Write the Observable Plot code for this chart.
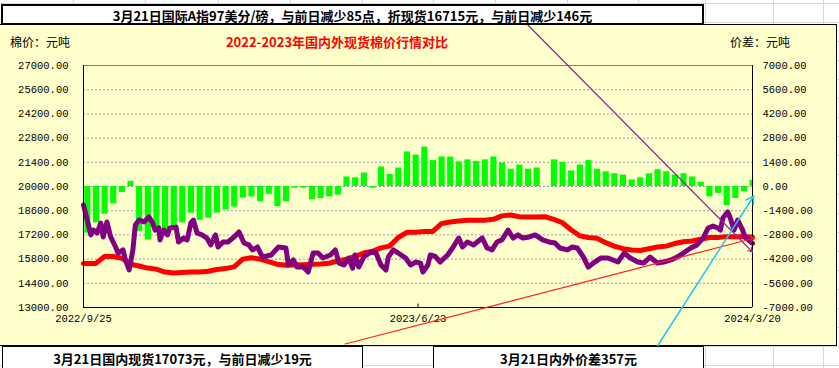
<!DOCTYPE html>
<html><head><meta charset="utf-8">
<script src="https://cdn.jsdelivr.net/npm/d3@7"></script>
<script src="https://cdn.jsdelivr.net/npm/@observablehq/plot@0.6"></script>
<style>
body{margin:0;background:#fff}
#wrap{position:relative;width:839px;height:368px;overflow:hidden;background:#fff;font-family:"Noto Sans CJK SC",sans-serif}
.gv{position:absolute;top:0;width:1px;height:368px;background:#d8d8d8}
.gh{position:absolute;left:0;height:1px;width:839px;background:#d8d8d8}
#area{position:absolute;left:-1px;top:24px;width:838px;height:322px;background:#ffffcc;border:1px solid #000;box-sizing:border-box}
#chart{position:absolute;left:0;top:0}
.lbl{position:absolute;top:34px;line-height:16px;font-size:12px;color:#000;white-space:nowrap}
#title{position:absolute;top:34px;left:337px;transform:translateX(-50%);line-height:16px;font-size:13px;font-weight:700;color:#ff0000;white-space:nowrap}
.box{position:absolute;background:#fff;border:1px solid #000;box-sizing:border-box;text-align:center;font-weight:700;font-size:13px;line-height:14px;color:#000;white-space:nowrap}
</style></head>
<body>
<div id="wrap">
  <div id="grid"></div>
  <div id="area"></div>
  <div id="chart"></div>
  <div class="lbl" style="left:10px">棉价：元吨</div>
  <div id="title">2022-2023年国内外现货棉价行情对比</div>
  <div class="lbl" style="left:730px">价差：元吨</div>
  <div class="box" style="left:1px;top:4px;width:703px;height:21px;border-width:2px;padding-top:3px">3月21日国际A指97美分/磅，与前日减少85点，折现货16715元，与前日减少146元</div>
  <div class="box" style="left:2px;top:346px;width:361px;height:30px;padding-top:5px">3月21日国内现货17073元，与前日减少19元</div>
  <div class="box" style="left:433px;top:346px;width:271px;height:30px;padding-top:5px">3月21日内外价差357元</div>
</div>
<script>
// ---- data ----
// Y tick labels (left: price, right: spread)
const priceTicks = [13000,14400,15800,17200,18600,20000,21400,22800,24200,25600,27000];
const spreadTicks = [-7000,-5600,-4200,-2800,-1400,0,1400,2800,4200,5600,7000];
const spreadZero = 20000; // price level where the spread axis reads 0
// X tick labels
const xTickDates = ["2022-09-25","2023-06-23","2024-03-20"];
const xTickLabels = ["2022/9/25","2023/6/23","2024/3/20"];

// Domestic spot price, one value per week (weeks start 2022-09-26)
const domesticPrice = [15550,15550,15950,15950,15850,15500,15400,15280,15220,15050,
15000,15020,15050,15060,15100,15200,15250,15350,15800,15880,
15800,15650,15500,15450,15460,15480,15500,15520,15560,15700,
15800,15950,16150,16250,16450,16550,17050,17350,17350,17400,
17400,17850,17950,18000,18050,18050,18050,18100,18300,18350,
18250,18230,18230,18250,18100,17900,17500,17150,17050,17000,
16750,16550,16400,16330,16300,16400,16500,16550,16700,16800,
16850,16950,17050,17050,17100,17100,17100,17073];

// Domestic minus international spread, one value per week (null = holiday week)
const weeklySpread = [-2700,-2100,-1600,-1000,-350,300,-2600,-3100,-2350,-2630,
-2400,-2100,-1540,-1950,-1830,-1540,-1360,-1190,-670,-600,
-880,-450,-1170,-880,-100,-100,-770,-700,-600,-500,
550,500,780,-100,1130,700,1070,2000,1820,2280,
1500,1710,1700,1420,1540,1450,1540,1710,1360,1000,
1240,1000,1070,null,1540,1400,900,1240,1500,1000,
850,740,660,380,500,740,970,850,660,740,
550,250,-600,-400,-1100,-700,-300,357];

// International price converted to spot (day offset from 2022-09-25, value)
const intlDays = [0,3,6,8,11,14,16,19,22,26,28,32,34,37,40,42,45,49,53,56,
58,61,62,65,68,70,75,77,81,84,87,89,92,96,100,103,107,109,113,117,
122,126,130,134,137,141,145,152,158,164,166,170,173,178,182,186,190,194,200,204,
207,211,215,218,220,223,227,233,237,241,245,247,251,255,261,265,269,273,275,279,
281,285,289,295,299,304,307,311,316,323,327,331,335,339,344,348,352,356,361,366,
372,377,382,386,392,396,400,405,409,413,419,425,429,433,438,443,449,454,459,465,
470,476,481,486,492,497,502,506,510,514,516,518,522,524,527,530,534,536,542];
const intlPrice = [18930,18060,17200,17480,17310,17890,17080,17950,17080,16500,16150,16330,15750,15170,16330,17770,18060,17950,18240,17890,
17480,17600,16910,17480,17200,17600,17650,16790,17020,16910,17890,18060,17310,17200,17020,16620,17200,16500,16790,16790,
17080,17370,16730,16620,16330,16500,15920,16040,16500,16440,15460,15750,15340,15340,15050,16150,16150,15860,16040,16330,
15570,15460,15860,15280,16040,15340,15920,16210,16150,15460,15170,15920,16330,16150,15860,15460,15630,15570,15050,15460,
16040,15950,15630,16040,16440,17020,16500,16790,16620,17020,16440,16330,16790,16910,17480,17020,17200,17020,17080,17200,
16910,16790,16730,16440,16330,16500,16440,15920,15340,15570,15860,15860,15750,15630,16150,15860,15630,15570,15920,15570,
15630,15750,15920,16150,16440,16620,17020,17600,17710,17600,17480,18180,18530,18180,17480,18060,17480,17080,16715];

// Callout connector lines (day offset / price level at each end)
const calloutColor = ["#8a2c9a","#ff2020","#22c4f2"];
const calloutStartDay = [360,212,465];
const calloutStartValue = [29343,10889,10773];
const calloutEndDay = [542,544,543];
const calloutEndValue = [16211,17021,19450];

// ---- build ----
const start = new Date(Date.UTC(2022,8,25));
const end = new Date(Date.UTC(2024,2,20));
const dayOf = n => d3.utcDay.offset(start, n);
const weeks = d3.utcMonday.range(new Date(Date.UTC(2022,8,26)), new Date(Date.UTC(2024,2,19)));

const domestic = [{date: start, v: domesticPrice[0]}]
  .concat(weeks.map((w,i) => ({date: d3.utcDay.offset(w,2), v: domesticPrice[i]})));
const intl = intlDays.map((d,i) => ({date: dayOf(d), v: intlPrice[i]}));
const spread = weeks.map((w,i) => ({
  x1: w,
  x2: d3.min([d3.utcDay.offset(w,5), d3.utcDay.offset(end,1)]),
  v: weeklySpread[i]
})).filter(d => d.v != null);
const callouts = calloutColor.map((c,i) => ({
  c, x1: dayOf(calloutStartDay[i]), y1: calloutStartValue[i],
  x2: dayOf(calloutEndDay[i]), y2: calloutEndValue[i]
}));

// grid of the spreadsheet behind the chart
const grid = document.getElementById("grid");
[73,145,218,290,362,433,495,567,638,705,773,823].forEach(x => {
  const d = document.createElement("div"); d.className = "gv"; d.style.left = x + "px"; grid.appendChild(d);
});
for (let k = 0; k < 20; k++) {
  const d = document.createElement("div"); d.className = "gh"; d.style.top = Math.round(3 + 19.05*k) + "px"; grid.appendChild(d);
}

const gridLevels = priceTicks.filter(v => v !== 13000 && v !== 27000);

const chart = Plot.plot({
  width: 839, height: 368,
  marginLeft: 83, marginRight: 87, marginTop: 65, marginBottom: 61,
  x: {type: "utc", domain: [start, end], axis: null},
  y: {domain: [13000, 27000], axis: null},
  style: {background: "transparent", fontFamily: "'Liberation Mono', monospace", fontSize: "10.5px", overflow: "visible"},
  marks: [
    Plot.ruleY(gridLevels, {stroke: "#9c9cb0", strokeDasharray: "2,2"}),
    Plot.rect(spread, {x1: "x1", x2: "x2", y1: spreadZero, y2: d => spreadZero + d.v, fill: "#00ff00"}),
    Plot.line(domestic, {x: "date", y: "v", stroke: "#ff0000", strokeWidth: 5, strokeLinejoin: "round"}),
    Plot.line(intl, {x: "date", y: "v", stroke: "#800080", strokeWidth: 5, strokeLinejoin: "round"}),
    Plot.ruleY([27000], {stroke: "#808080"}),
    Plot.ruleY([13000], {stroke: "#000"}),
    Plot.ruleX([start, end], {stroke: "#000"}),
    Plot.ruleX(xTickDates.map(d => new Date(d)), {y1: 13000, y2: 13200, stroke: "#000"}),
    Plot.text(priceTicks, {y: d => d, frameAnchor: "left", text: d => d.toFixed(2), textAnchor: "end", dx: -15, fill: "#000"}),
    Plot.text(spreadTicks, {y: d => spreadZero + d, frameAnchor: "right", text: d => d.toFixed(2), textAnchor: "start", dx: 10, fill: "#000"}),
    Plot.text(xTickDates, {x: d => new Date(d), frameAnchor: "bottom", text: (d,i) => xTickLabels[i], dy: 14, fill: "#000"}),
    Plot.arrow(callouts.slice(0,2), {x1: "x1", y1: "y1", x2: "x2", y2: "y2", stroke: d => d.c, strokeWidth: 1.2, headLength: 6}),
    Plot.arrow(callouts.slice(2), {x1: "x1", y1: "y1", x2: "x2", y2: "y2", stroke: d => d.c, strokeWidth: 1.5, headLength: 9})
  ]
});
document.getElementById("chart").appendChild(chart);
</script>
</body></html>
